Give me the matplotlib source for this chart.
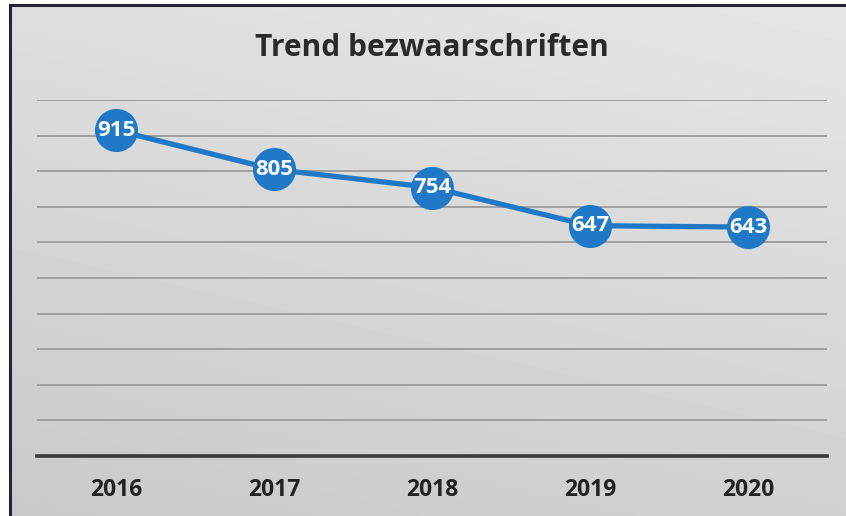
import matplotlib
matplotlib.use("Agg")
import matplotlib.pyplot as plt
import numpy as np
from matplotlib.patches import Rectangle

# bezwaarschriften per jaar
jaren = ["2016", "2017", "2018", "2019", "2020"]
aantallen = [915, 805, 754, 647, 643]

blauw = "#2079c7"
W, H = 846, 516

fig = plt.figure(figsize=(W / 100, H / 100), dpi=100)
fig.patch.set_facecolor("white")

# grijze achtergrond met lichte verloop binnen het kader
bg = fig.add_axes([10 / W, 0, 1 - 10 / W, 1 - 5 / H], zorder=0)
gx, gy = np.meshgrid(np.linspace(0, 1, 200), np.linspace(0, 1, 120))
shade = 0.79 + 0.08 * gy + 0.03 * gx
bg.imshow(shade, cmap="gray", vmin=0, vmax=1, aspect="auto",
          origin="lower", extent=[0, 1, 0, 1], interpolation="bilinear")
bg.set_axis_off()

# kaderlijn links en boven
fig.add_artist(Rectangle((10 / W, -0.05), 1.0, 1 - 5 / H + 0.05,
                         transform=fig.transFigure, fill=False,
                         edgecolor="#2a2230", linewidth=2.2, zorder=1))

ax = fig.add_axes([37 / W, (H - 456) / H, 790 / W, 356 / H], zorder=2)
ax.patch.set_alpha(0)
x = np.arange(len(jaren))

ax.set_xlim(-0.5, len(jaren) - 0.5)
ax.set_ylim(0, 1000)
for y in range(100, 1001, 100):
    ax.axhline(y, color="#a09e9e", linewidth=1.4, zorder=1)
ax.axhline(0, color="#3a3a3a", linewidth=2.6, zorder=1, clip_on=False)

ax.plot(x, aantallen, color=blauw, linewidth=3.8, marker="o",
        markersize=30, markerfacecolor=blauw, markeredgecolor=blauw, zorder=3)
for xi, v in zip(x, aantallen):
    ax.text(xi, v, str(v), color="white", fontsize=16, fontweight="bold",
            family=["Open Sans", "DejaVu Sans"], ha="center", va="center",
            zorder=4)

ax.set_xticks(x)
ax.set_xticklabels(jaren, fontsize=16.5, fontweight="bold", color="#222222",
                   family=["Open Sans", "DejaVu Sans"])
ax.tick_params(axis="x", length=0, pad=16)
ax.set_yticks([])
for s in ax.spines.values():
    s.set_visible(False)

fig.text(432 / W, (H - 48) / H, "Trend bezwaarschriften", ha="center",
         va="center", fontsize=21.5, fontweight="bold", color="#2a2a2a",
         family=["Open Sans", "DejaVu Sans"])

fig.savefig("out.png", dpi=100)
